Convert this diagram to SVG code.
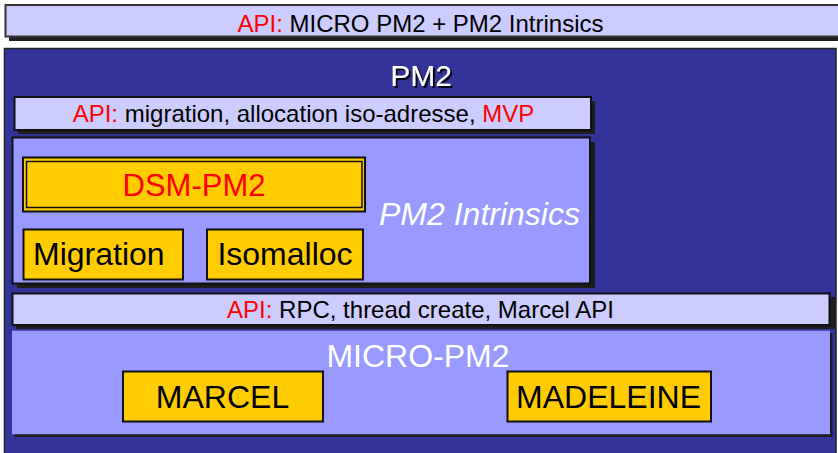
<svg xmlns="http://www.w3.org/2000/svg" width="838" height="453" viewBox="0 0 838 453">
<defs>
<filter id="tshadow" x="-10%" y="-10%" width="130%" height="140%">
<feDropShadow dx="2" dy="2" stdDeviation="0.4" flood-color="#000000" flood-opacity="0.9"/>
</filter>
</defs>
<style>
text{font-family:"Liberation Sans",Arial,sans-serif}
.api{fill:#CCCCFF;stroke:#111;stroke-width:2}
.shadow{fill:#1e1e1e}
.lav{fill:#9999FF}
.box{fill:#FFCC00;stroke:#111;stroke-width:2}
.t24{font-size:24px;fill:#000}
.red{fill:#FF0000}
.big{font-size:32px;fill:#000;text-anchor:middle}
.white{fill:#FFFFFF}
</style>
<rect x="0" y="0" width="838" height="453" fill="#FFFFFF"/>

<g id="api-top">
<rect class="shadow" x="9" y="9" width="829" height="32"/>
<rect class="api" x="5.5" y="5" width="834" height="31.5" style="stroke:#333"/>
<text class="t24" x="420.5" y="32" text-anchor="middle"><tspan class="red">API:</tspan> MICRO PM2 + PM2 Intrinsics</text>
</g>

<g id="pm2">
<rect x="4.5" y="48.5" width="831.5" height="412" fill="#333399" stroke="#222" stroke-width="1.5"/>
<text x="421" y="86" font-size="30" fill="#FFFFFF" text-anchor="middle" filter="url(#tshadow)">PM2</text>
</g>

<g id="api-intrinsics">
<rect class="shadow" x="18" y="101" width="577" height="33"/>
<rect class="api" x="14.5" y="97" width="576.5" height="33"/>
<text class="t24" x="72.7" y="121.7"><tspan class="red">API:</tspan> migration, allocation iso-adresse, <tspan class="red">MVP</tspan></text>
</g>

<g id="pm2-intrinsics">
<rect class="shadow" x="17" y="142" width="578" height="146"/>
<rect class="lav" x="12.5" y="137.5" width="577.5" height="146" stroke="#111" stroke-width="2"/>
<text x="379" y="225" font-size="32" font-style="italic" fill="#FFFFFF">PM2 Intrinsics</text>
</g>

<g id="dsm-pm2">
<rect class="box" x="23" y="157.5" width="342" height="54"/>
<rect x="26.5" y="161.5" width="335.5" height="46" fill="none" stroke="#111" stroke-width="1.5"/>
<text x="194" y="196" font-size="31" class="red" text-anchor="middle">DSM-PM2</text>
</g>

<g id="migration">
<rect class="box" x="23.5" y="229.5" width="159.5" height="50"/>
<text x="33" y="265" font-size="32" fill="#000">Migration</text>
</g>

<g id="isomalloc">
<rect class="box" x="207" y="229.5" width="156" height="50"/>
<text x="285" y="265" class="big">Isomalloc</text>
</g>

<g id="api-micro">
<rect class="shadow" x="16" y="297" width="819" height="32"/>
<rect class="api" x="12.5" y="293.5" width="817" height="31.5"/>
<text class="t24" x="420.5" y="317.6" text-anchor="middle"><tspan class="red">API:</tspan> RPC, thread create, Marcel API</text>
</g>

<g id="micro-pm2">
<rect class="shadow" x="14.5" y="333" width="818" height="104"/>
<rect class="lav" x="12" y="330.7" width="818" height="103.5"/>
<text x="418" y="367" class="big white">MICRO-PM2</text>
</g>

<g id="marcel">
<rect class="box" x="123" y="371.5" width="200" height="50"/>
<text x="222.5" y="408" class="big">MARCEL</text>
</g>

<g id="madeleine">
<rect class="box" x="507.5" y="371.5" width="203.5" height="50"/>
<text x="608.5" y="408" class="big">MADELEINE</text>
</g>
</svg>
